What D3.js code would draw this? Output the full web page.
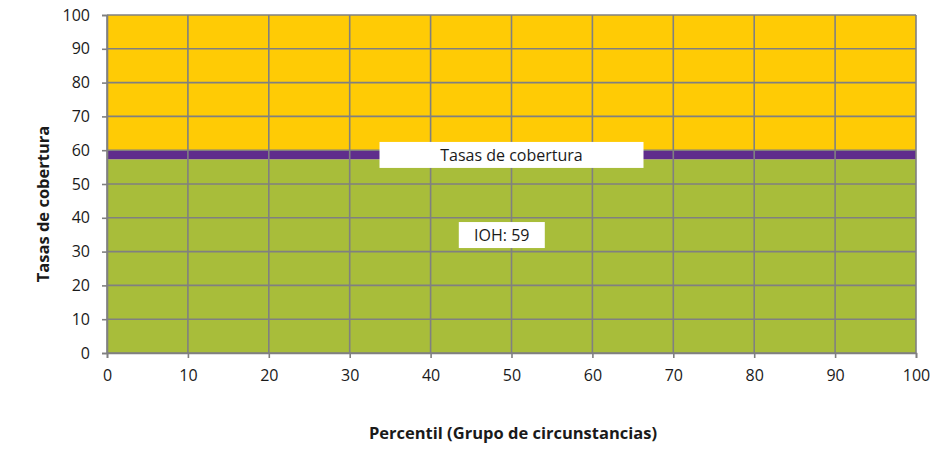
<!DOCTYPE html>
<html>
<head>
<meta charset="utf-8">
<script src="https://cdn.jsdelivr.net/npm/d3@7"></script>
<style>
  body { margin: 0; background: #fff; }
  text { font-family: "Open Sans", "Noto Sans", sans-serif; fill: #1a1a1a; }
</style>
</head>
<body>
<div id="chart"></div>
<script>
// percentiles along the x axis
const percentiles = [0, 10, 20, 30, 40, 50, 60, 70, 80, 90, 100] ;
// stacked layers (constant across percentiles)
const coverage = [57.3, 57.3, 57.3, 57.3, 57.3, 57.3, 57.3, 57.3, 57.3, 57.3, 57.3] ;
const band     = [2.7, 2.7, 2.7, 2.7, 2.7, 2.7, 2.7, 2.7, 2.7, 2.7, 2.7] ;
const rest     = [40, 40, 40, 40, 40, 40, 40, 40, 40, 40, 40] ;
const layerKeys = ["coverage", "band", "rest"] ;
const layerColors = {"coverage": "#a8bd3a", "band": "#5f2d8c", "rest": "#ffcb05"} ;
const xTicks = [0, 10, 20, 30, 40, 50, 60, 70, 80, 90, 100] ;
const yTicks = [0, 10, 20, 30, 40, 50, 60, 70, 80, 90, 100] ;
const labels = [
  {text: "Tasas de cobertura", x: 50.0, y: 58.6, w: 264},
  {text: "IOH: 59", x: 48.8, y: 34.9, w: 86}
] ;

let dimensions = {
  width: 930,
  height: 466,
  margin: { top: 15, right: 14, bottom: 113, left: 107 },
}
dimensions.boundedWidth = dimensions.width - dimensions.margin.left - dimensions.margin.right
dimensions.boundedHeight = dimensions.height - dimensions.margin.top - dimensions.margin.bottom

const rows = percentiles.map((p, i) => ({p: p, coverage: coverage[i], band: band[i], rest: rest[i]})) ;
const stacked = d3.stack().keys(layerKeys)(rows) ;

const svg = d3.select("#chart").append("svg")
    .attr("width", dimensions.width)
    .attr("height", dimensions.height) ;

const bounds = svg.append("g")
    .attr("transform", `translate(${dimensions.margin.left},${dimensions.margin.top})`) ;

const xScale = d3.scaleLinear().domain([0, 100]).range([0, dimensions.boundedWidth]) ;
const yScale = d3.scaleLinear().domain([0, 100]).range([dimensions.boundedHeight, 0]) ;

const area = d3.area()
    .x((d) => xScale(d.data.p))
    .y0((d) => yScale(d[0]))
    .y1((d) => yScale(d[1])) ;

bounds.selectAll("path.layer")
  .data(stacked)
  .enter().append("path")
    .attr("class", "layer")
    .attr("d", area)
    .attr("fill", (d) => layerColors[d.key]) ;

// grid lines
const gridColor = "#808080" ;
bounds.append("g")
  .selectAll("line")
  .data(yTicks)
  .enter().append("line")
    .attr("x1", 0).attr("x2", dimensions.boundedWidth)
    .attr("y1", (d) => yScale(d)).attr("y2", (d) => yScale(d))
    .attr("stroke", gridColor).attr("stroke-width", 1.6) ;
bounds.append("g")
  .selectAll("line")
  .data(xTicks)
  .enter().append("line")
    .attr("y1", 0).attr("y2", dimensions.boundedHeight)
    .attr("x1", (d) => xScale(d)).attr("x2", (d) => xScale(d))
    .attr("stroke", gridColor).attr("stroke-width", 1.6) ;

// axes
const xAxis = bounds.append("g")
    .attr("transform", `translate(0,${dimensions.boundedHeight})`)
    .call(d3.axisBottom(xScale).tickValues(xTicks).tickSize(5).tickPadding(12)) ;
const yAxis = bounds.append("g")
    .call(d3.axisLeft(yScale).tickValues(yTicks).tickSize(5).tickPadding(12)) ;
[xAxis, yAxis].forEach((ax) => {
  ax.select(".domain").attr("stroke", gridColor).attr("stroke-width", 1.6) ;
  ax.selectAll(".tick line").attr("stroke", gridColor).attr("stroke-width", 1.6) ;
  ax.selectAll(".tick text")
    .style("font-family", '"Open Sans", sans-serif')
    .style("font-size", "16px")
    .attr("fill", "#1a1a1a") ;
}) ;

// white label boxes
const lab = bounds.selectAll("g.label")
  .data(labels)
  .enter().append("g")
    .attr("class", "label")
    .attr("transform", (d) => `translate(${xScale(d.x)},${yScale(d.y)})`) ;
lab.append("rect")
    .attr("x", (d) => -d.w / 2).attr("y", -13)
    .attr("width", (d) => d.w).attr("height", 26)
    .attr("fill", "#fff") ;
lab.append("text")
    .attr("text-anchor", "middle")
    .attr("dy", "0.35em")
    .style("font-size", "16px")
    .text((d) => d.text) ;

// axis titles
svg.append("text")
    .attr("transform", "translate(43,204) rotate(-90)")
    .attr("text-anchor", "middle")
    .attr("dy", "0.35em")
    .style("font-size", "16.5px")
    .style("font-weight", "bold")
    .text("Tasas de cobertura") ;
svg.append("text")
    .attr("x", 513)
    .attr("y", 433)
    .attr("text-anchor", "middle")
    .attr("dy", "0.35em")
    .style("font-size", "16.5px")
    .style("font-weight", "bold")
    .text("Percentil (Grupo de circunstancias)") ;
</script>
</body>
</html>
